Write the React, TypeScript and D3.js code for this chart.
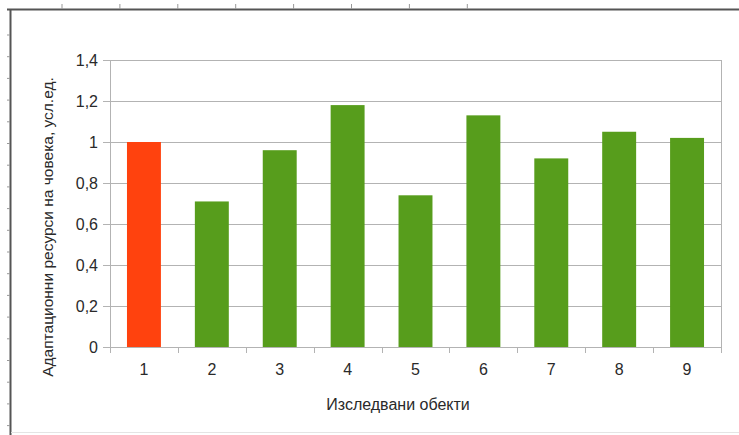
import React, { useRef, useEffect } from "react";
import * as d3 from "d3";

// chart data
const categories = ["1", "2", "3", "4", "5", "6", "7", "8", "9"];
const values = [1.0, 0.71, 0.96, 1.18, 0.74, 1.13, 0.92, 1.05, 1.02];
const yTicks = [0, 0.2, 0.4, 0.6, 0.8, 1, 1.2, 1.4];
const yTitle = "Адаптационни ресурси на човека, усл.ед.";
const xTitle = "Изследвани обекти";

const App = () => {
  const svgRef = useRef<SVGSVGElement>(null);

  useEffect(() => {
    const width = 739;
    const height = 435;
    const margin = { top: 60, right: 18, bottom: 88, left: 110 };
    const font = "'Liberation Sans', Arial, sans-serif";
    const textColor = "#2a2a2a";

    const svg = d3
      .select(svgRef.current)
      .attr("width", width)
      .attr("height", height)
      .style("background", "#fff");
    svg.selectAll("*").remove();

    // page frame (document edge with ruler ticks)
    const frame = svg.append("g");
    frame
      .append("line")
      .attr("x1", 7)
      .attr("x2", width)
      .attr("y1", 9.5)
      .attr("y2", 9.5)
      .attr("stroke", "#555")
      .attr("stroke-width", 2);
    frame
      .append("line")
      .attr("x1", 10.5)
      .attr("x2", 10.5)
      .attr("y1", 9)
      .attr("y2", height)
      .attr("stroke", "#555")
      .attr("stroke-width", 2);
    frame
      .selectAll(".rtop")
      .data(d3.range(8))
      .enter()
      .append("line")
      .attr("x1", (i) => 62 + i * 57.9)
      .attr("x2", (i) => 62 + i * 57.9)
      .attr("y1", 4)
      .attr("y2", 9)
      .attr("stroke", "#999");
    frame
      .selectAll(".rleft")
      .data(d3.range(19))
      .enter()
      .append("line")
      .attr("x1", 7)
      .attr("x2", 10)
      .attr("y1", (i) => 35 + i * 21.7)
      .attr("y2", (i) => 35 + i * 21.7)
      .attr("stroke", "#999");
    frame
      .append("line")
      .attr("x1", 11)
      .attr("x2", width)
      .attr("y1", 432.5)
      .attr("y2", 432.5)
      .attr("stroke", "#e4e4e4");

    // scales
    const xScale = d3
      .scaleBand()
      .domain(categories)
      .range([margin.left, width - margin.right])
      .paddingInner(0.5)
      .paddingOuter(0.25);

    const yScale = d3
      .scaleLinear()
      .domain([0, 1.4])
      .range([height - margin.bottom, margin.top]);

    const fmt = (d: number) => d3.format("~g")(+d.toFixed(1)).replace(".", ",");

    // gridlines
    svg
      .append("g")
      .selectAll("line")
      .data(yTicks)
      .enter()
      .append("line")
      .attr("x1", margin.left - 7)
      .attr("x2", width - margin.right)
      .attr("y1", (d) => Math.round(yScale(d)) + 0.5)
      .attr("y2", (d) => Math.round(yScale(d)) + 0.5)
      .attr("stroke", "#b3b3b3");

    // y axis + right border
    svg
      .append("line")
      .attr("x1", margin.left + 0.5)
      .attr("x2", margin.left + 0.5)
      .attr("y1", margin.top)
      .attr("y2", height - margin.bottom)
      .attr("stroke", "#b3b3b3");
    svg
      .append("line")
      .attr("x1", width - margin.right + 0.5)
      .attr("x2", width - margin.right + 0.5)
      .attr("y1", margin.top)
      .attr("y2", height - margin.bottom)
      .attr("stroke", "#b3b3b3");

    // y tick labels
    svg
      .append("g")
      .selectAll("text")
      .data(yTicks)
      .enter()
      .append("text")
      .attr("x", margin.left - 12)
      .attr("y", (d) => yScale(d))
      .attr("dy", "0.36em")
      .attr("text-anchor", "end")
      .style("font-family", font)
      .style("font-size", "16px")
      .style("fill", textColor)
      .text((d) => fmt(d));

    // bars
    svg
      .selectAll(".bar")
      .data(values)
      .enter()
      .append("rect")
      .attr("class", "bar")
      .attr("x", (d, i) => xScale(categories[i])!)
      .attr("y", (d) => yScale(d))
      .attr("width", xScale.bandwidth())
      .attr("height", (d) => yScale(0) - yScale(d))
      .attr("fill", (d, i) => (i === 0 ? "#ff420e" : "#579d1c"));

    // x axis ticks at category boundaries
    const step = xScale.step();
    svg
      .append("g")
      .selectAll("line")
      .data(d3.range(categories.length + 1))
      .enter()
      .append("line")
      .attr("x1", (i) => Math.round(margin.left + i * step) + 0.5)
      .attr("x2", (i) => Math.round(margin.left + i * step) + 0.5)
      .attr("y1", yScale(0))
      .attr("y2", yScale(0) + 6)
      .attr("stroke", "#b3b3b3");

    // x tick labels
    svg
      .append("g")
      .selectAll("text")
      .data(categories)
      .enter()
      .append("text")
      .attr("x", (d) => xScale(d)! + xScale.bandwidth() / 2)
      .attr("y", yScale(0) + 28)
      .attr("text-anchor", "middle")
      .style("font-family", font)
      .style("font-size", "16px")
      .style("fill", textColor)
      .text((d) => d);

    // axis titles
    svg
      .append("text")
      .attr("x", 398)
      .attr("y", 410)
      .attr("text-anchor", "middle")
      .style("font-family", font)
      .style("font-size", "16px")
      .style("fill", textColor)
      .text(xTitle);

    svg
      .append("text")
      .attr("transform", `translate(53,${227}) rotate(-90)`)
      .attr("text-anchor", "middle")
      .style("font-family", font)
      .style("font-size", "15.5px")
      .style("fill", textColor)
      .text(yTitle);
  }, []);

  return (
    <div>
      <svg
        ref={svgRef}
        style={{ position: "absolute", left: 0, top: 0, display: "block" }}
      ></svg>
    </div>
  );
};

export default App;
